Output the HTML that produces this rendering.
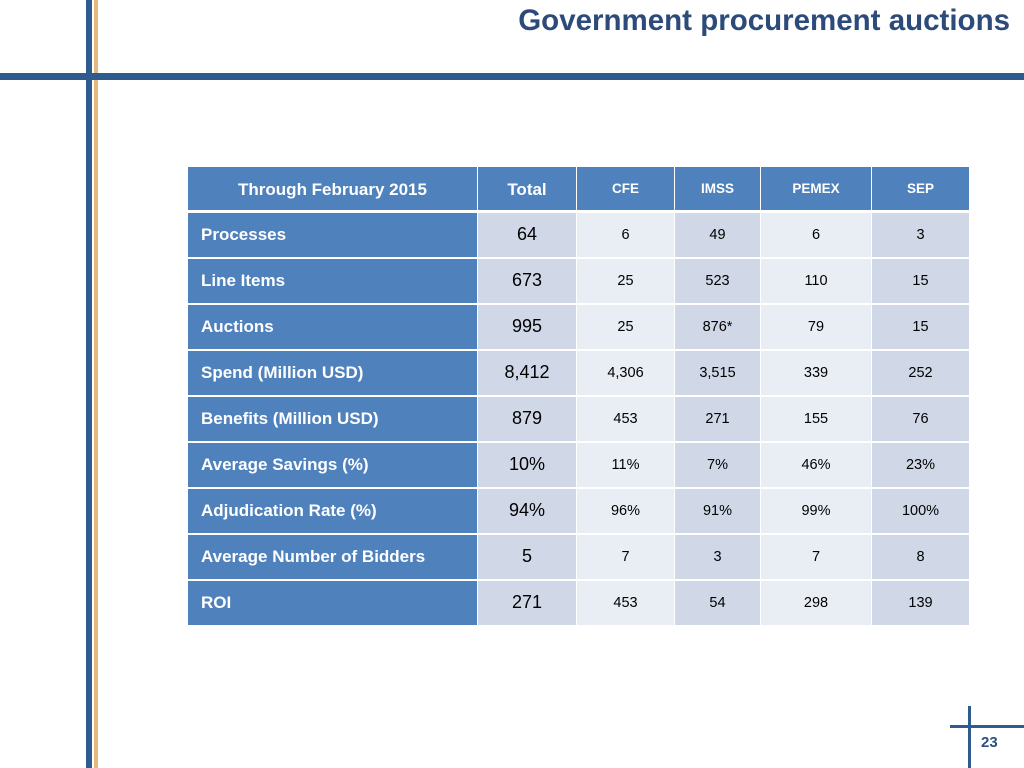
<!DOCTYPE html>
<html><head><meta charset="utf-8"><style>
body{margin:0;width:1024px;height:768px;background:#fff;position:relative;overflow:hidden;font-family:"Liberation Sans",sans-serif}
.a{position:absolute}
.c{position:absolute;display:flex;align-items:center;justify-content:center;box-sizing:border-box}
.h{background:#4f81bd;color:#fff;font-weight:bold}
.lab{background:#4f81bd;color:#fff;font-weight:bold;font-size:17px;justify-content:flex-start;padding-left:13px;padding-bottom:0px}
.d{color:#000;font-size:14.5px;padding-bottom:0px}
.t{font-size:18px;padding-bottom:1px}
.dk{background:#d0d8e8}.lt{background:#e9edf4}
</style></head><body>
<div class="a" style="left:86px;top:0;width:6px;height:768px;background:#2f5b8e"></div>
<div class="a" style="left:94px;top:0;width:4px;height:768px;background:#e3b97f"></div>
<div class="a" style="left:0;top:73px;width:1024px;height:7px;background:#2f5b8e"></div>
<div class="a" style="right:14px;top:4px;font-size:29.5px;font-weight:bold;color:#2c4a7a;white-space:nowrap">Government procurement auctions</div>
<div class="a" style="left:968px;top:706px;width:3px;height:62px;background:#2f5b8e"></div>
<div class="a" style="left:950px;top:725px;width:74px;height:3px;background:#2f5b8e"></div>
<div class="a" style="left:981px;top:734px;font-size:15px;font-weight:bold;color:#2f4e7e">23</div>
<div id="tbl"></div>
<script>
const headers=["Through February 2015","Total","CFE","IMSS","PEMEX","SEP"];
const labels=["Processes","Line Items","Auctions","Spend (Million USD)","Benefits (Million USD)","Average Savings (%)","Adjudication Rate (%)","Average Number of Bidders","ROI"];
const totals=["64","673","995","8,412","879","10%","94%","5","271"];
const cfe=["6","25","25","4,306","453","11%","96%","7","453"];
const imss=["49","523","876*","3,515","271","7%","91%","3","54"];
const pemex=["6","110","79","339","155","46%","99%","7","298"];
const sep=["3","15","15","252","76","23%","100%","8","139"];
const colX=[188,478,577,675,761,872,970];
const tbl=document.getElementById('tbl');
function cell(x,y,w,h,cls,txt,style){const d=document.createElement('div');d.className='c '+cls;d.style.left=x+'px';d.style.top=y+'px';d.style.width=w+'px';d.style.height=h+'px';if(style)d.style.cssText+=style;d.textContent=txt;tbl.appendChild(d);return d;}
headers.forEach((hd,i)=>{const d=cell(colX[i],167,colX[i+1]-colX[i]-1,43,'h',hd,'font-size:'+(i<2?'17px':'13.5px')+';padding-top:'+(i<2?'3px':'0'));

});
const cols=[totals,cfe,imss,pemex,sep];
labels.forEach((lb,r)=>{const y=213+r*46;
const l=cell(colX[0],y,colX[1]-colX[0]-1,44,'lab',lb);


cols.forEach((arr,j)=>{const c=cell(colX[j+1],y,colX[j+2]-colX[j+1]-1,44,'d '+(j%2==0?'dk':'lt')+(j==0?' t':''),arr[r]);

});});
</script>
</body></html>
